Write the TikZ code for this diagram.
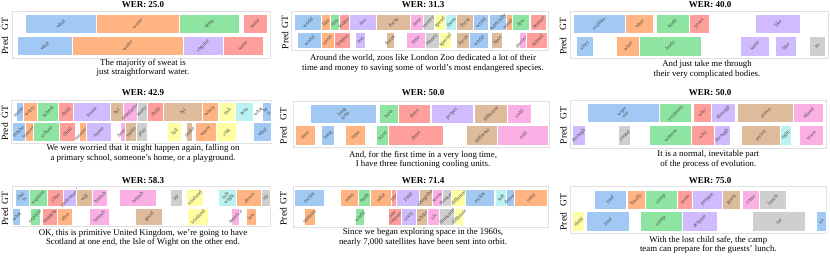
\documentclass[tikz,border=0pt]{standalone}
\usepackage{fontspec}
\setmainfont{Liberation Serif}
\usetikzlibrary{positioning}
\definecolor{pblue}{HTML}{A1C9F4}
\definecolor{porange}{HTML}{FFB482}
\definecolor{pgreen}{HTML}{8DE5A1}
\definecolor{pred}{HTML}{FF9F9B}
\definecolor{ppurple}{HTML}{D0BBFF}
\definecolor{pbrown}{HTML}{DEBB9B}
\definecolor{ppink}{HTML}{FAB0E4}
\definecolor{pgray}{HTML}{CFCFCF}
\definecolor{pyellow}{HTML}{FFFEA3}
\definecolor{pcyan}{HTML}{B9F2F0}

\tikzset{
  wer/.style={font=\bfseries\fontsize{9}{10}\selectfont},
  captxt/.style={font=\fontsize{8.8}{9.4}\selectfont, align=center, inner sep=0pt},
  rowlab/.style={font=\fontsize{9.5}{10}\selectfont, rotate=90, inner sep=0pt},
  axframe/.style={draw=black!12, line width=0.6pt},
  wlab/.style={font=\fontsize{5.4}{5}\selectfont, text=black!72, rotate=45, align=center, inner sep=0pt},
}
% one word block: x0, x1, y0, y1, colour, word
\newcommand{\wbox}[6]{%
  \fill[fill=#5, draw=white, line width=0.5pt] (#1,#3) rectangle (#2,#4);
  \node[wlab] at ({(#1+#2)/2},{(#3+#4)/2}) {#6};}

\begin{document}
\begin{tikzpicture}[x=1pt,y=-1pt]
  \useasboundingbox (0,0) rectangle (830,256);

  % ---- row 1, panel 1
  \node[wer] (t1) at (143,5) {WER: 25.0};
  \draw[axframe] (12.7,11.3) rectangle (270,58.3);
  \node[rowlab] (gt1) at (5,23.7) {GT};
  \node[rowlab] (pr1) at (5,45.7) {Pred};
  \foreach \a/\b/\c/\w in {25/96/pblue/what, 96/179/porange/water, 179/239/pgreen/often, 243/267/pred/same}
    {\wbox{\a}{\b}{14}{33.5}{\c}{\w}}
  \foreach \a/\b/\c/\w in {17/72/pblue/what, 72/183/porange/water, 183/223/ppurple/regular, 223/263/pred/same}
    {\wbox{\a}{\b}{36}{55.5}{\c}{\w}}
  \node[captxt] (c1) at (143,68) {The majority of sweat is\\just straightforward water.};

  % ---- row 1, panel 2
  \node[wer] (t2) at (423,5) {WER: 31.3};
  \draw[axframe] (291.7,11.7) rectangle (548,50.5);
  \node[rowlab] (gt2) at (285,22.3) {GT};
  \node[rowlab] (pr2) at (285,40.3) {Pred};
  \foreach \a/\b/\c/\w in {294/321.7/pblue/world, 321.7/330.3/porange/like, 330.3/339/pgreen/this,
      339/349.7/pred/london, 349.7/376/ppurple/zoo, 376.7/410/pbrown/focus, 410.7/423.3/ppink/time,
      423.3/434.3/pgray/money, 434.3/445.7/pyellow/spend, 445.7/456.7/pcyan/them, 456.7/473.3/pbrown/focus,
      473.3/488.3/pblue/world, 489.3/506.7/pblue/especially, 506.7/512.3/porange/number,
      512.3/529/pgreen/few, 530/546.7/pred/animal}
    {\wbox{\a}{\b}{14}{30.7}{\c}{\w}}
  \foreach \a/\b/\c/\w in {297.3/321/pblue/world, 321/334.3/porange/same, 334.3/350/pred/london,
      355.7/365.7/ppurple/zoo, 386/394/pbrown/focus, 406/425/ppink/time, 425/439.3/pgray/money,
      439.3/451.7/pyellow/special, 456.7/469.3/pbrown/focus, 469.3/488.3/pblue/world,
      491.7/502.7/pbrown/base, 519/526.7/ppink/decrease, 526.7/547.7/pred/animal}
    {\wbox{\a}{\b}{32.3}{48.3}{\c}{\w}}
  \node[captxt] (c2) at (423,63.3) {Around the world, zoos like London Zoo dedicated a lot of their\\time and money to saving some of world's most endangered species.};

  % ---- row 1, panel 3
  \node[wer] (t3) at (710,5) {WER: 40.0};
  \draw[axframe] (570.7,11.7) rectangle (828.5,58.7);
  \node[rowlab] (gt3) at (563,23.8) {GT};
  \node[rowlab] (pr3) at (563,46) {Pred};
  \foreach \a/\b/\c/\w in {573.3/625/pblue/explain, 625/653.3/porange/what, 656/689.3/pgreen/body,
      689.3/709.3/pred/years, 755/800.7/ppurple/like}
    {\wbox{\a}{\b}{14.3}{33.3}{\c}{\w}}
  \foreach \a/\b/\c/\w in {576.7/593.3/pblue/story, 616/639.3/porange/what, 639.3/701.7/pgreen/body,
      740.7/769/ppurple/same, 775/796.7/ppurple/like, 809.3/825/pgray/so}
    {\wbox{\a}{\b}{36}{56}{\c}{\w}}
  \node[captxt] (c3) at (707,69.5) {And just take me through\\their very complicated bodies.};

  % ---- row 2, panel 4
  \node[wer] (t4) at (143,92.7) {WER: 42.9};
  \draw[axframe] (11.7,100) rectangle (271.7,143.3);
  \node[rowlab] (gt4) at (5,111.7) {GT};
  \node[rowlab] (pr4) at (5,131.8) {Pred};
  \foreach \a/\b/\c/\w in {16/23.3/pblue/maybe, 23.3/37.7/porange/worry, 37.7/58.3/pgreen/school,
      58.3/73.3/pred/child, 73.3/110/ppurple/home, 110/123.3/pbrown/hit, 123.3/137.3/ppink/population,
      137.3/147.3/pgray/many, 147.3/163.3/pred/child, 163.3/202.3/pbrown/hit, 202.3/218.3/porange/worry,
      219.3/235/pyellow/risk, 235/253.3/pcyan/area, 253.3/262.7/white/what, 262.7/271/pblue/be\\it}
    {\wbox{\a}{\b}{102.3}{121}{\c}{\w}}
  \foreach \a/\b/\c/\w in {12.3/25/pblue/maybe, 25/33.3/porange/concern, 33.3/59.3/pgreen/school,
      59.3/75/pred/child, 79.3/86/porange/mountain, 86/111.7/ppurple/home, 120/125/ppink/home,
      125/136.7/pbrown/make, 136.7/147.7/pgray/play, 167.3/181.7/pyellow/fall, 186/192.7/pbrown/make,
      195/216.7/porange/worry, 216.7/236/pyellow/risk, 253.3/271/pblue/what}
    {\wbox{\a}{\b}{122.7}{141}{\c}{\w}}
  \node[captxt] (c4) at (143,153.3) {We were worried that it might happen again, falling on\\a primary school, someone's home, or a playground.};

  % ---- row 2, panel 5
  \node[wer] (t5) at (423,92.7) {WER: 50.0};
  \draw[axframe] (293,101.7) rectangle (549,147.7);
  \node[rowlab] (gt5) at (283.3,113.7) {GT};
  \node[rowlab] (pr5) at (283.3,135.3) {Pred};
  \foreach \a/\b/\c/\w in {310/376.7/pblue/long\\time, 379/398.3/pgreen/have, 398.3/430/pred/three,
      431/473.3/ppurple/proper, 474/507.3/pbrown/different, 507.3/531/ppink/cold}
    {\wbox{\a}{\b}{104}{123.3}{\c}{\w}}
  \foreach \a/\b/\c/\w in {295/315/porange/time, 321.7/334.3/pblue/long, 345.7/365/porange/time,
      376.7/388.3/pgreen/have, 388.3/443.3/pred/three, 466.7/497.7/pbrown/different, 497.7/548.3/ppink/cold}
    {\wbox{\a}{\b}{125.7}{145}{\c}{\w}}
  \node[captxt] (c5) at (423,160) {And, for the first time in a very long time,\\I have three functioning cooling units.};

  % ---- row 2, panel 6
  \node[wer] (t6) at (710,92.7) {WER: 50.0};
  \draw[axframe] (570.7,100) rectangle (826.7,148.3);
  \node[rowlab] (gt6) at (563.3,113) {GT};
  \node[rowlab] (pr6) at (563.3,135.3) {Pred};
  \foreach \a/\b/\c/\w in {587.7/659/pblue/wipe\\out, 659/691.7/pgreen/evidence, 693.3/711/pred/why,
      711/735.7/ppurple/through, 737.7/793.3/pbrown/arrive, 793.3/823.3/ppink/island}
    {\wbox{\a}{\b}{103.3}{122.7}{\c}{\w}}
  \foreach \a/\b/\c/\w in {572.7/585/ppurple/through, 618.3/630.7/pgray/round, 649.3/691.7/pgreen/witness,
      691.7/714.3/pred/why, 714.3/730/ppurple/through, 741/780/pbrown/arrive, 780/791/pcyan/right,
      799.3/823.3/ppink/town}
    {\wbox{\a}{\b}{125.7}{145}{\c}{\w}}
  \node[captxt] (c6) at (708.3,159.5) {It is a normal, inevitable part\\of the process of evolution.};

  % ---- row 3, panel 7
  \node[wer] (t7) at (143,180.7) {WER: 58.3};
  \draw[axframe] (12.7,186.7) rectangle (270,226.7);
  \node[rowlab] (gt7) at (5,197.7) {GT};
  \node[rowlab] (pr7) at (5,216.7) {Pred};
  \foreach \a/\b/\c/\w in {15/29.3/pblue/that\\is, 29.3/47.3/pgreen/explain, 47.3/63.3/pred/clear,
      63.3/76/ppurple/understand, 76/92.7/pbrown/will, 92.7/107.3/ppink/british, 119.3/156/ppink/british,
      170/182.7/pgray/up, 186/203.3/pyellow/scotland, 218.3/236.7/pcyan/isle\\wight,
      236.7/261.7/porange/down, 261.7/270/pgray/up}
    {\wbox{\a}{\b}{189.3}{206}{\c}{\w}}
  \foreach \a/\b/\c/\w in {12.7/20.7/pblue/what, 30/40/pgreen/explain, 42.7/57.3/pred/imagine,
      57.3/72.7/porange/idea, 89.3/109.3/ppink/british, 135.7/162.7/pbrown/good,
      187.3/208.3/pyellow/scotland, 231/239.3/ppink/america, 246/256/porange/law}
    {\wbox{\a}{\b}{208.3}{225}{\c}{\w}}
  \node[captxt] (c7) at (143,238) {OK, this is primitive United Kingdom, we're going to have\\Scotland at one end, the Isle of Wight on the other end.};

  % ---- row 3, panel 8
  \node[wer] (t8) at (423,180.7) {WER: 71.4};
  \draw[axframe] (293.3,186.7) rectangle (548.3,227.3);
  \node[rowlab] (gt8) at (283.3,197.7) {GT};
  \node[rowlab] (pr8) at (283.3,216.7) {Pred};
  \foreach \a/\b/\c/\w in {294/324.3/pblue/rocket, 340/358.3/porange/orbit, 358.3/370/pgreen/earth,
      370/391.7/porange/orbit, 391.7/396.7/pred/one, 396.7/419.3/ppurple/1960, 419.3/432.3/pbrown/altogether,
      432.3/442.3/ppink/seven, 442.3/451.7/pgray/thousand, 451.7/465/pyellow/different,
      465/494.3/pblue/rocket, 495/506.7/pcyan/soft, 506.7/514.3/pblue/thrown, 514.3/547.7/porange/orbit}
    {\wbox{\a}{\b}{189.3}{206}{\c}{\w}}
  \foreach \a/\b/\c/\w in {304.3/315/porange/upstairs, 355/364.3/pgreen/world, 388.3/401/pred/one\\century,
      401/416.7/ppurple/sixty, 416.7/427.7/pbrown/whole, 427.7/439.3/ppink/six,
      439.3/454.3/pgray/thousand, 454.3/463.3/pyellow/different}
    {\wbox{\a}{\b}{208.3}{225}{\c}{\w}}
  \node[captxt] (c8) at (423,237.5) {Since we began exploring space in the 1960s,\\nearly 7,000 satellites have been sent into orbit.};

  % ---- row 3, panel 9
  \node[wer] (t9) at (710,180.7) {WER: 75.0};
  \draw[axframe] (570.7,186.7) rectangle (826,233.3);
  \node[rowlab] (gt9) at (563.3,199.7) {GT};
  \node[rowlab] (pr9) at (563.3,221.7) {Pred};
  \foreach \a/\b/\c/\w in {594/626/pblue/find, 627.3/645/porange/finally, 645/677.3/pgreen/camp,
      677.3/692.7/pred/team, 692.7/722.7/ppurple/prepare, 722.7/740.7/pbrown/guest,
      742.3/759.3/ppink/come, 759.3/786/pgray/lunch}
    {\wbox{\a}{\b}{190}{209.3}{\c}{\w}}
  \foreach \a/\b/\c/\w in {572.7/584/pyellow/child, 586.7/629.3/pblue/find, 640/682.3/pgreen/camp,
      682.3/717.7/ppurple/prepare, 752.7/805.7/pgray/car, 816/826.7/pblue/so}
    {\wbox{\a}{\b}{211.7}{231.7}{\c}{\w}}
  \node[captxt] (c9) at (708.3,245) {With the lost child safe, the camp\\team can prepare for the guests' lunch.};
\end{tikzpicture}
\end{document}
